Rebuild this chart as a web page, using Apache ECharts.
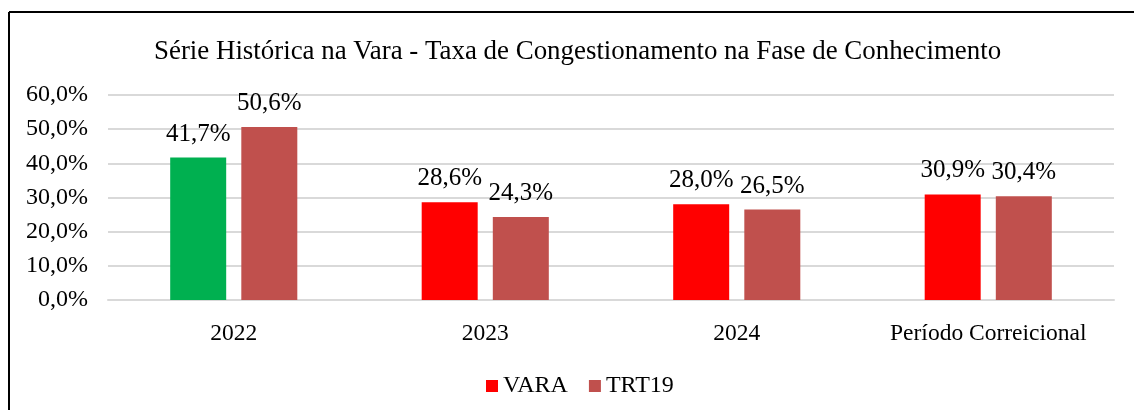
<!DOCTYPE html>
<html>
<head>
<meta charset="utf-8">
<script src="https://cdn.jsdelivr.net/npm/echarts@6/dist/echarts.min.js"></script>
<style>html,body{margin:0;padding:0;background:#fff;}#c{width:1134px;height:410px;}</style>
</head>
<body>
<div id="c"></div>
<script>
const categories = ['2022', '2023', '2024', 'Período Correicional'];
const varaValues = [41.7, 28.6, 28.0, 30.9];
const trtValues = [50.6, 24.3, 26.5, 30.4];
const seriesNames = ['VARA', 'TRT19'];
const titleText = 'Série Histórica na Vara - Taxa de Congestionamento na Fase de Conhecimento';

const font = '"Liberation Serif", "Times New Roman", serif';
const fmt = v => v.toFixed(1).replace('.', ',') + '%';
const highlightIndex = 0; // first VARA bar shown in green

const chart = echarts.init(document.getElementById('c'), null, {renderer: 'canvas'});
chart.setOption({
  backgroundColor: '#fff',
  animation: false,
  title: {
    text: titleText, left: 149, top: 33,
    textStyle: {fontFamily: font, fontSize: 26.9, fontWeight: 'normal', color: '#000'}
  },
  legend: {
    data: seriesNames, left: 481, top: 369, itemWidth: 12, itemHeight: 12, itemGap: 21,
    icon: 'rect',
    textStyle: {fontFamily: font, fontSize: 24, color: '#000'}
  },
  grid: {left: 108, right: 20, top: 95, bottom: 110, containLabel: false},
  xAxis: {
    type: 'category', data: categories,
    axisLine: {show: true, lineStyle: {color: '#d9d9d9', width: 2}},
    axisTick: {show: false},
    axisLabel: {interval: 0, fontFamily: font, fontSize: 23.5, color: '#000', margin: 22}
  },
  yAxis: {
    type: 'value', min: 0, max: 60, interval: 10,
    axisLine: {show: false}, axisTick: {show: false},
    splitLine: {lineStyle: {color: '#d9d9d9', width: 2}},
    axisLabel: {fontFamily: font, fontSize: 24, color: '#000', margin: 20, formatter: v => fmt(v)}
  },
  series: [
    {
      name: seriesNames[0], type: 'bar', barWidth: 56, barGap: '27%',
      itemStyle: {color: '#ff0000'},
      data: varaValues.map((v, i) => i === highlightIndex ? {value: v, itemStyle: {color: '#00b050'}} : v),
      label: {show: true, position: 'top', distance: 11, fontFamily: font, fontSize: 25, color: '#000', formatter: p => fmt(p.value)}
    },
    {
      name: seriesNames[1], type: 'bar', barWidth: 56,
      itemStyle: {color: '#c0504d'},
      data: trtValues,
      label: {show: true, position: 'top', distance: 11, fontFamily: font, fontSize: 25, color: '#000', formatter: p => fmt(p.value)}
    }
  ],
  graphic: [
    {type: 'line', shape: {x1: 9, y1: 12, x2: 1134, y2: 12}, style: {stroke: '#000', lineWidth: 2}},
    {type: 'line', shape: {x1: 9, y1: 12, x2: 9, y2: 410}, style: {stroke: '#000', lineWidth: 2}}
  ]
});
</script>
</body>
</html>
